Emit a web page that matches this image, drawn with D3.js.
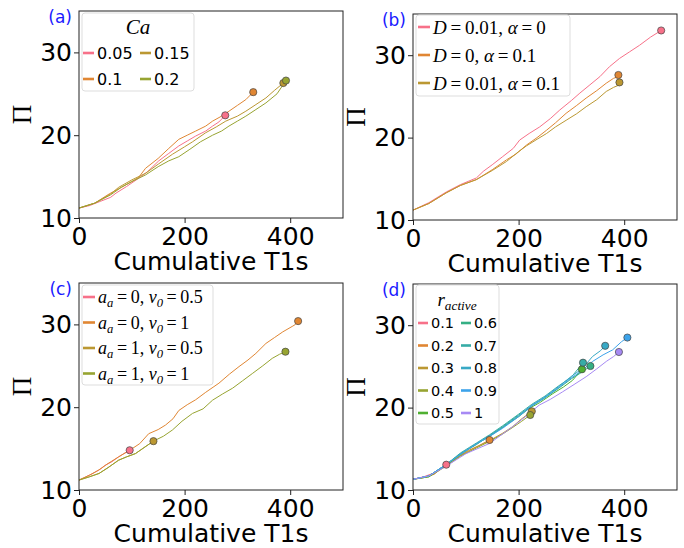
<!DOCTYPE html>
<html>
<head>
<meta charset="utf-8">
<script src="https://cdn.jsdelivr.net/npm/d3@7"></script>
<style>
  body { margin: 0; background: #fff; }
  svg { display: block; }
</style>
</head>
<body>
<svg id="chart" width="684" height="548"></svg>
<script>
// ---- data ----
var xTicks = [0, 200, 400];
var yTicks = [10, 20, 30];

// 12-step husl colours, first ten used
var palette = ['#f77189', '#e08633', '#bb9832', '#97a431', '#4fb031',
               '#34af84', '#36aca6', '#38a9c5', '#3ca3ea', '#a78af4'];

// (a) capillary number
var caLabels = ['0.05', '0.1', '0.15', '0.2'];
var caSeries = [
  [[0,11.2],[20,11.5],[40,12.0],[60,12.5],[70,13.0],[90,13.8],[113,14.8],[130,15.6],[151,16.9],[170,17.8],[189,18.7],[205,19.3],[221,19.9],[240,20.5],[253,21.1],[265,21.6],[277,22.4]],
  [[0,11.2],[30,11.8],[57,12.9],[80,13.7],[100,14.4],[113,14.9],[126,16.0],[150,17.2],[170,18.4],[189,19.5],[205,20.0],[221,20.5],[240,21.1],[253,21.7],[270,22.3],[284,22.9],[300,23.6],[316,24.3],[330,25.2]],
  [[0,11.2],[30,11.8],[60,12.9],[75,13.7],[100,14.6],[126,15.4],[150,16.5],[177,17.7],[200,18.6],[215,19.2],[240,20.3],[260,21.0],[278,21.7],[300,22.3],[316,22.9],[335,23.7],[354,24.5],[370,25.4],[387,26.3]],
  [[0,11.2],[30,11.8],[60,12.8],[80,13.7],[100,14.4],[126,15.2],[150,16.2],[170,16.9],[189,17.4],[210,18.3],[230,19.2],[253,20.0],[270,20.5],[284,21.1],[300,21.7],[316,22.3],[335,23.1],[354,23.9],[375,25.0],[392,26.6]]
];

// (b) noise / alpha
var noiseLabels = ['D=0.01, α=0', 'D=0, α=0.1', 'D=0.01, α=0.1'];
var noiseSeries = [
  [[0,11.2],[30,12.1],[63,13.4],[90,14.3],[120,15.1],[133,15.9],[150,16.7],[170,17.7],[190,18.7],[202,19.7],[220,20.5],[240,21.3],[260,22.3],[278,23.35],[300,24.5],[316,25.4],[335,26.4],[354,27.4],[372,28.6],[391,29.6],[410,30.4],[429,31.2],[450,32.2],[470,33.0]],
  [[0,11.2],[30,12.0],[63,13.3],[90,14.2],[120,14.9],[150,16.1],[177,17.3],[195,18.0],[215,19.1],[235,20.0],[253,20.9],[270,21.8],[290,22.95],[310,23.9],[328,24.8],[348,25.7],[366,26.6],[380,27.2],[389,27.4]],
  [[0,11.2],[30,12.0],[63,13.3],[90,14.2],[120,14.9],[150,16.0],[177,17.1],[200,18.3],[215,19.0],[235,19.8],[253,20.5],[270,21.3],[290,22.1],[310,22.9],[328,23.75],[348,24.6],[366,25.6],[380,26.1],[391,26.4]]
];
var noiseEnds = [[470,33.0],[389,27.6],[391,26.7]];

// (c) a_a / v0
var activeLabels = ['a_a=0, v_0=0.5', 'a_a=0, v_0=1', 'a_a=1, v_0=0.5', 'a_a=1, v_0=1'];
var activeSeries = [
  [[0,11.2],[25,11.95],[40,12.5],[50,13.0],[62,13.4],[75,14.0],[85,14.4],[96,14.8]],
  [[0,11.2],[20,11.8],[37,12.4],[55,13.2],[75,14.0],[96,14.8],[115,15.6],[132,16.8],[150,17.3],[164,17.85],[178,18.6],[189,19.6],[205,20.3],[221,20.9],[240,21.8],[265,22.9],[285,24.0],[303,24.9],[320,25.7],[335,26.5],[354,27.7],[370,28.4],[386,29.1],[405,29.8],[410,30.0],[415,30.4]],
  [[0,11.2],[20,11.6],[38,12.0],[55,12.7],[75,13.6],[90,14.0],[107,14.4],[125,15.2],[141,15.9]],
  [[0,11.2],[20,11.6],[38,12.0],[55,12.7],[75,13.6],[90,14.0],[107,14.4],[125,15.2],[141,15.9],[160,16.5],[177,17.25],[195,18.3],[215,19.25],[235,19.8],[253,20.85],[272,21.6],[291,22.3],[310,23.2],[329,24.1],[348,25.0],[366,25.9],[380,26.4],[391,26.7]]
];

// (d) r_active
var ratioLabels = ['0.1', '0.2', '0.3', '0.4', '0.5', '0.6', '0.7', '0.8', '0.9', '1'];
var ratioSeries = [
  [[0,11.3],[20,11.6],[37,12.0],[50,12.5],[63,13.07]],
  [[0,11.3],[20,11.5],[40,11.9],[63,13.1],[85,14.0],[105,14.8],[125,15.4],[145,16.07]],
  [[0,11.3],[30,11.7],[63,13.0],[90,14.2],[120,15.2],[145,16.0],[170,16.9],[189,17.7],[205,18.6],[225,19.55]],
  [[0,11.3],[30,11.6],[63,12.9],[90,14.1],[120,15.1],[145,15.9],[170,16.8],[189,17.6],[205,18.3],[222,19.1]],
  [[0,11.3],[30,11.6],[63,13.0],[90,14.3],[120,15.6],[145,16.5],[170,17.6],[200,18.9],[220,19.9],[240,20.6],[265,21.7],[285,22.5],[302,23.3],[320,24.65]],
  [[0,11.3],[30,11.7],[63,13.1],[90,14.4],[120,15.5],[145,16.6],[170,17.7],[200,19.1],[225,20.2],[250,21.2],[275,22.3],[300,23.5],[320,24.3],[336,25.05]],
  [[0,11.3],[30,11.7],[63,13.1],[90,14.5],[120,15.7],[145,16.7],[170,17.8],[200,19.2],[225,20.4],[250,21.4],[275,22.6],[300,23.7],[322,25.45]],
  [[0,11.3],[30,11.7],[63,13.1],[90,14.4],[120,15.6],[145,16.6],[170,17.6],[200,19.0],[225,20.3],[250,21.3],[275,22.5],[300,23.8],[320,24.7],[340,26.2],[355,26.9],[364,27.5]],
  [[0,11.3],[30,11.7],[63,13.1],[90,14.3],[120,15.6],[145,16.5],[170,17.5],[200,18.9],[225,20.2],[250,21.2],[275,22.4],[300,23.6],[320,24.5],[340,25.6],[360,26.4],[378,27.0],[395,28.0],[406,28.5]],
  [[0,11.3],[30,11.7],[63,12.9],[100,14.4],[145,15.65],[189,17.7],[215,19.0],[239,20.3],[260,21.0],[283,21.9],[305,22.8],[328,23.75],[348,24.7],[366,25.6],[380,26.2],[390,26.75]]
];
var ratioEnds = [[63,13.07],[145,16.07],[225,19.55],[222,19.1],[320,24.65],[336,25.05],[322,25.45],[364,27.5],[406,28.5],[390,26.75]];

// ---- layout ----
var svg = d3.select('#chart');
var plotW = 264;
var panels = [
  {left: 79,  top: 11,  bottom: 218, tag: '(a)'},
  {left: 413, top: 14,  bottom: 220, tag: '(b)'},
  {left: 79,  top: 283, bottom: 490, tag: '(c)'},
  {left: 413, top: 284, bottom: 490, tag: '(d)'}
];

// tiny mathtext: letters italic, x_y / x_{abc} subscripts
function mathText(sel, str, size) {
  var toks = [], i = 0;
  while (i < str.length) {
    var c = str[i];
    if (c === '_') {
      var sub;
      if (str[i + 1] === '{') { var j = str.indexOf('}', i); sub = str.slice(i + 2, j); i = j + 1; }
      else { sub = str[i + 1]; i += 2; }
      toks.push({t: sub, sub: true});
      continue;
    }
    toks.push({t: c === '=' ? '\u2009=\u2009' : c});
    i++;
  }
  var shifted = false;
  toks.forEach(function (tk) {
    var ts = sel.append('tspan').text(tk.t);
    if (tk.sub) {
      ts.attr('font-size', size * 0.7).attr('font-style', 'italic');
      if (!shifted) { ts.attr('dy', size * 0.22); shifted = true; }
    } else {
      if (shifted) { ts.attr('dy', -size * 0.22); shifted = false; }
      if (/[A-Za-zα]/.test(tk.t)) ts.attr('font-style', 'italic');
    }
  });
}

function drawPanel(p, series, colors, ends) {
  var x = d3.scaleLinear().domain([0, 500]).range([p.left, p.left + plotW]);
  var y = d3.scaleLinear().domain([10, 35]).range([p.bottom, p.top]);
  var g = svg.append('g');

  var line = d3.line().x(function (d) { return x(d[0]); }).y(function (d) { return y(d[1]); });
  g.selectAll('path.series')
    .data(series)
    .enter().append('path')
    .attr('class', 'series')
    .attr('d', line)
    .attr('fill', 'none')
    .attr('stroke', function (d, i) { return colors[i]; })
    .attr('stroke-width', 1);

  g.selectAll('circle')
    .data(ends)
    .enter().append('circle')
    .attr('cx', function (d) { return x(d[0]); })
    .attr('cy', function (d) { return y(d[1]); })
    .attr('r', 3.6)
    .attr('fill', function (d, i) { return colors[i]; })
    .attr('stroke', '#444')
    .attr('stroke-width', 0.7);

  var ax = g.append('g')
    .attr('transform', 'translate(0,' + p.bottom + ')')
    .call(d3.axisBottom(x).tickValues(xTicks).tickSize(5).tickPadding(4).tickSizeOuter(0));
  var ay = g.append('g')
    .attr('transform', 'translate(' + p.left + ',0)')
    .call(d3.axisLeft(y).tickValues(yTicks).tickSize(5).tickPadding(2).tickSizeOuter(0));
  [ax, ay].forEach(function (a) {
    a.select('.domain').remove();
    a.selectAll('line').attr('stroke', '#222');
    a.selectAll('text').attr('font-family', 'DejaVu Sans').attr('font-size', 25).attr('fill', '#000');
  });

  g.append('rect')
    .attr('x', p.left).attr('y', p.top)
    .attr('width', plotW).attr('height', p.bottom - p.top)
    .attr('fill', 'none').attr('stroke', '#222').attr('stroke-width', 1);

  g.append('text')
    .attr('x', p.left + plotW / 2).attr('y', p.bottom + 52)
    .attr('text-anchor', 'middle')
    .attr('font-family', 'DejaVu Sans').attr('font-size', 25)
    .text('Cumulative T1s');

  g.append('text')
    .attr('transform', 'translate(' + (p.left - 48) + ',' + ((p.top + p.bottom) / 2) + ') rotate(-90)')
    .attr('text-anchor', 'middle')
    .attr('font-family', 'Liberation Serif').attr('font-size', 27)
    .text('Π');

  g.append('text')
    .attr('x', p.left - 7).attr('y', p.top + 12)
    .attr('text-anchor', 'end')
    .attr('font-family', 'DejaVu Sans').attr('font-size', 17)
    .attr('fill', '#1a1aff')
    .text(p.tag);
  return g;
}

function legendBox(g, x0, y0, w, h) {
  g.append('rect')
    .attr('x', x0).attr('y', y0).attr('width', w).attr('height', h)
    .attr('rx', 3)
    .attr('fill', '#fff').attr('fill-opacity', 0.8)
    .attr('stroke', '#ddd').attr('stroke-width', 1);
}

function legendRows(g, labels, colors, opt) {
  var items = g.selectAll('g.leg')
    .data(labels)
    .enter().append('g').attr('class', 'leg')
    .attr('transform', function (d, i) {
      var col = Math.floor(i / opt.rows), row = i % opt.rows;
      return 'translate(' + (opt.x0 + col * opt.colGap) + ',' + (opt.y0 + row * opt.dy) + ')';
    });
  items.append('line')
    .attr('x1', 0).attr('x2', opt.lineW)
    .attr('stroke', function (d, i) { return colors[i]; })
    .attr('stroke-width', 2.6);
  items.append('text')
    .attr('x', opt.lineW + 3)
    .attr('dy', '0.35em')
    .attr('font-family', opt.math ? 'Liberation Serif' : 'DejaVu Sans')
    .attr('font-size', opt.size)
    .each(function (d) {
      if (opt.math) mathText(d3.select(this), d, opt.size);
      else d3.select(this).text(d);
    });
}

// (a)
var ga = drawPanel(panels[0], caSeries, palette, caSeries.map(function (s) { return s[s.length - 1]; }));
legendBox(ga, 82, 13, 112, 78);
mathText(ga.append('text').attr('x', 138).attr('y', 34).attr('text-anchor', 'middle')
  .attr('font-family', 'Liberation Serif').attr('font-size', 21), 'Ca', 21);
legendRows(ga, caLabels, palette, {x0: 83, rows: 2, colGap: 57, y0: 53, dy: 26, size: 16, lineW: 11, math: false});

// (b)
var gb = drawPanel(panels[1], noiseSeries, palette, noiseEnds);
legendBox(gb, 416, 15, 154, 81);
legendRows(gb, noiseLabels, palette, {x0: 418, rows: 3, colGap: 0, y0: 27, dy: 28, size: 19, lineW: 12, math: true});

// (c)
var gc = drawPanel(panels[2], activeSeries, palette, activeSeries.map(function (s) { return s[s.length - 1]; }));
legendBox(gc, 82, 285, 131, 100);
legendRows(gc, activeLabels, palette, {x0: 83, rows: 4, colGap: 0, y0: 297, dy: 25.5, size: 18, lineW: 12, math: true});

// (d)
var gd = drawPanel(panels[3], ratioSeries, palette, ratioEnds);
legendBox(gd, 416, 285, 83, 139);
mathText(gd.append('text').attr('x', 457).attr('y', 306).attr('text-anchor', 'middle')
  .attr('font-family', 'Liberation Serif').attr('font-size', 19), 'r_{active}', 19);
legendRows(gd, ratioLabels, palette, {x0: 418, rows: 5, colGap: 43, y0: 323, dy: 22.5, size: 14.5, lineW: 10, math: false});
</script>
</body>
</html>
